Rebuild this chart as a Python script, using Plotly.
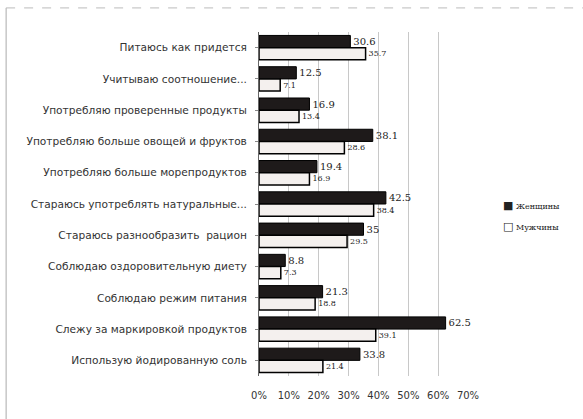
import plotly.graph_objects as go

categories = [
    "Питаюсь как придется",
    "Учитываю соотношение...",
    "Употребляю проверенные продукты",
    "Употребляю больше овощей и фруктов",
    "Употребляю больше морепродуктов",
    "Стараюсь употреблять натуральные...",
    "Стараюсь разнообразить  рацион",
    "Соблюдаю оздоровительную диету",
    "Соблюдаю режим питания",
    "Слежу за маркировкой продуктов",
    "Использую йодированную соль",
]
women = [30.6, 12.5, 16.9, 38.1, 19.4, 42.5, 35, 8.8, 21.3, 62.5, 33.8]
men = [35.7, 7.1, 13.4, 28.6, 16.9, 38.4, 29.5, 7.3, 18.8, 39.1, 21.4]
series_names = ["Женщины", "Мужчины"]
tick_vals = [0, 10, 20, 30, 40, 50, 60, 70]
tick_text = ["0%", "10%", "20%", "30%", "40%", "50%", "60%", "70%"]

W_COLOR = "#1e1a1a"
M_COLOR = "#f4f0ee"

fig = go.Figure()
fig.add_trace(go.Bar(
    y=categories, x=women, orientation="h", name=series_names[0], showlegend=False,
    marker=dict(color=W_COLOR, line=dict(color="#000000", width=1)),
    text=[str(v) for v in women], textposition="outside",
    textfont=dict(family="DejaVu Serif", size=11.5, color="#222"),
    cliponaxis=False,
))
fig.add_trace(go.Bar(
    y=categories, x=men, orientation="h", name=series_names[1], showlegend=False,
    marker=dict(color=M_COLOR, line=dict(color="#000000", width=1.5)),
    text=[str(v) for v in men], textposition="outside",
    textfont=dict(family="DejaVu Serif", size=8, color="#222"),
    cliponaxis=False,
))

fig.update_layout(
    width=583, height=419,
    margin=dict(l=259, r=115, t=32, b=43, autoexpand=False),
    paper_bgcolor="white", plot_bgcolor="white",
    barmode="group", bargap=0.22, bargroupgap=0.0,
    font=dict(family="DejaVu Sans", size=9, color="#333"),
    showlegend=False,
)
fig.update_xaxes(
    range=[0, 70], tickvals=tick_vals, ticktext=tick_text,
    showgrid=True, gridcolor="#c8c8c8", gridwidth=1,
    zeroline=False, showline=False,
    tickfont=dict(family="DejaVu Sans", size=10, color="#333"), ticklabelstandoff=12,
)
fig.update_yaxes(
    autorange="reversed", showline=True, linecolor="#666", linewidth=1,
    ticks="outside", ticklen=3, tickcolor="#888",
    tickfont=dict(family="DejaVu Sans", size=10.6, color="#333"), ticklabelstandoff=6,
)

# legend (small square symbols next to the names)
legend_symbols = ["■", "□"]
legend_y = [0.497, 0.436]
for sym, name, ly in zip(legend_symbols, series_names, legend_y):
    fig.add_annotation(
        xref="paper", yref="paper", x=1.16, y=ly, xanchor="left", yanchor="middle",
        text=f'<span style="font-size:11px">{sym}</span> {name}', showarrow=False,
        font=dict(family="DejaVu Serif", size=8, color="#222"),
    )

# frame lines of the original picture
fig.add_shape(type="line", xref="paper", yref="paper", x0=-1.21, x1=-1.21, y0=-0.13, y1=1.07,
              line=dict(color="#aaa", width=1))
fig.add_shape(type="line", xref="paper", yref="paper", x0=-1.21, x1=1.55, y0=1.07, y1=1.07,
              line=dict(color="#bbb", width=1, dash="dash"))

fig.write_html("out.html")
